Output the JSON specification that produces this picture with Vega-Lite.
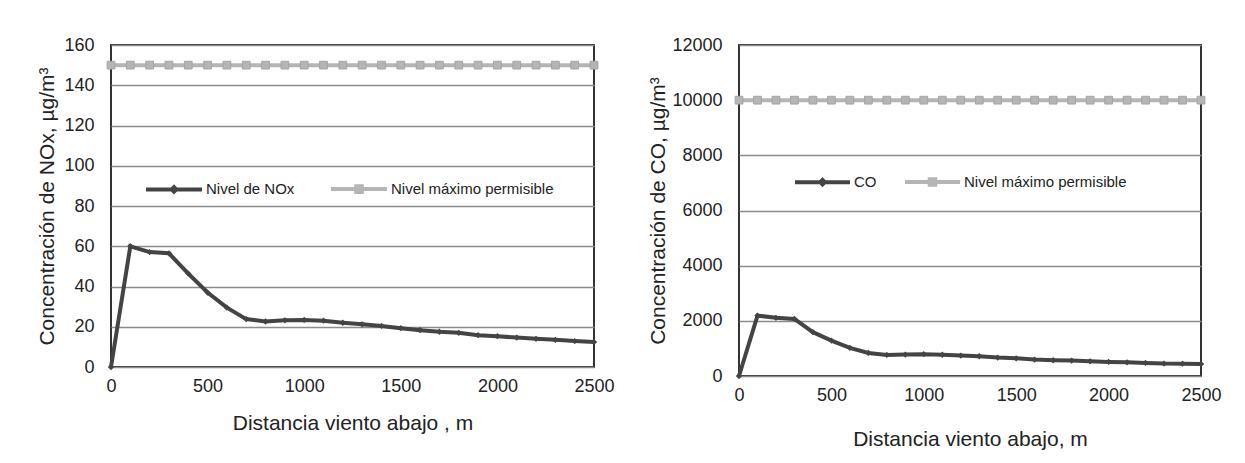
{
  "$schema": "https://vega.github.io/schema/vega-lite/v6.json",
  "background": "white",
  "padding": {"left": 35, "top": 35, "right": 10, "bottom": 10},
  "spacing": 30,
  "config": {
    "font": "Liberation Sans",
    "view": {"stroke": "#333", "strokeWidth": 2},
    "axis": {
      "labelFont": "Liberation Sans", "labelFontSize": 18, "labelColor": "#222",
      "titleFont": "Liberation Sans", "titleFontWeight": "normal", "titleColor": "#222",
      "ticks": false, "domain": false, "gridColor": "#8c8c8c", "gridWidth": 1.5, "gridOpacity": 1,
      "labelFlush": false, "format": "d"
    },
    "legend": {"labelFont": "Liberation Sans", "labelFontSize": 15, "labelColor": "#222", "labelLimit": 0}
  },
  "datasets": {
    "nox": [
      {"d": 0, "v": 0, "serie": "Nivel de NOx"},
      {"d": 100, "v": 60, "serie": "Nivel de NOx"},
      {"d": 200, "v": 57.1, "serie": "Nivel de NOx"},
      {"d": 300, "v": 56.5, "serie": "Nivel de NOx"},
      {"d": 400, "v": 46.4, "serie": "Nivel de NOx"},
      {"d": 500, "v": 37, "serie": "Nivel de NOx"},
      {"d": 600, "v": 29.5, "serie": "Nivel de NOx"},
      {"d": 700, "v": 23.8, "serie": "Nivel de NOx"},
      {"d": 800, "v": 22.6, "serie": "Nivel de NOx"},
      {"d": 900, "v": 23.2, "serie": "Nivel de NOx"},
      {"d": 1000, "v": 23.4, "serie": "Nivel de NOx"},
      {"d": 1100, "v": 23, "serie": "Nivel de NOx"},
      {"d": 1200, "v": 22, "serie": "Nivel de NOx"},
      {"d": 1300, "v": 21.2, "serie": "Nivel de NOx"},
      {"d": 1400, "v": 20.4, "serie": "Nivel de NOx"},
      {"d": 1500, "v": 19.3, "serie": "Nivel de NOx"},
      {"d": 1600, "v": 18.3, "serie": "Nivel de NOx"},
      {"d": 1700, "v": 17.5, "serie": "Nivel de NOx"},
      {"d": 1800, "v": 17, "serie": "Nivel de NOx"},
      {"d": 1900, "v": 15.8, "serie": "Nivel de NOx"},
      {"d": 2000, "v": 15.3, "serie": "Nivel de NOx"},
      {"d": 2100, "v": 14.6, "serie": "Nivel de NOx"},
      {"d": 2200, "v": 14, "serie": "Nivel de NOx"},
      {"d": 2300, "v": 13.5, "serie": "Nivel de NOx"},
      {"d": 2400, "v": 12.9, "serie": "Nivel de NOx"},
      {"d": 2500, "v": 12.4, "serie": "Nivel de NOx"},
      {"d": 0, "v": 150, "serie": "Nivel máximo permisible"},
      {"d": 100, "v": 150, "serie": "Nivel máximo permisible"},
      {"d": 200, "v": 150, "serie": "Nivel máximo permisible"},
      {"d": 300, "v": 150, "serie": "Nivel máximo permisible"},
      {"d": 400, "v": 150, "serie": "Nivel máximo permisible"},
      {"d": 500, "v": 150, "serie": "Nivel máximo permisible"},
      {"d": 600, "v": 150, "serie": "Nivel máximo permisible"},
      {"d": 700, "v": 150, "serie": "Nivel máximo permisible"},
      {"d": 800, "v": 150, "serie": "Nivel máximo permisible"},
      {"d": 900, "v": 150, "serie": "Nivel máximo permisible"},
      {"d": 1000, "v": 150, "serie": "Nivel máximo permisible"},
      {"d": 1100, "v": 150, "serie": "Nivel máximo permisible"},
      {"d": 1200, "v": 150, "serie": "Nivel máximo permisible"},
      {"d": 1300, "v": 150, "serie": "Nivel máximo permisible"},
      {"d": 1400, "v": 150, "serie": "Nivel máximo permisible"},
      {"d": 1500, "v": 150, "serie": "Nivel máximo permisible"},
      {"d": 1600, "v": 150, "serie": "Nivel máximo permisible"},
      {"d": 1700, "v": 150, "serie": "Nivel máximo permisible"},
      {"d": 1800, "v": 150, "serie": "Nivel máximo permisible"},
      {"d": 1900, "v": 150, "serie": "Nivel máximo permisible"},
      {"d": 2000, "v": 150, "serie": "Nivel máximo permisible"},
      {"d": 2100, "v": 150, "serie": "Nivel máximo permisible"},
      {"d": 2200, "v": 150, "serie": "Nivel máximo permisible"},
      {"d": 2300, "v": 150, "serie": "Nivel máximo permisible"},
      {"d": 2400, "v": 150, "serie": "Nivel máximo permisible"},
      {"d": 2500, "v": 150, "serie": "Nivel máximo permisible"}
    ],
    "co": [
      {"d": 0, "v": 0, "serie": "CO"},
      {"d": 100, "v": 2190, "serie": "CO"},
      {"d": 200, "v": 2110, "serie": "CO"},
      {"d": 300, "v": 2070, "serie": "CO"},
      {"d": 400, "v": 1590, "serie": "CO"},
      {"d": 500, "v": 1285, "serie": "CO"},
      {"d": 600, "v": 1020, "serie": "CO"},
      {"d": 700, "v": 836, "serie": "CO"},
      {"d": 800, "v": 765, "serie": "CO"},
      {"d": 900, "v": 776, "serie": "CO"},
      {"d": 1000, "v": 790, "serie": "CO"},
      {"d": 1100, "v": 770, "serie": "CO"},
      {"d": 1200, "v": 740, "serie": "CO"},
      {"d": 1300, "v": 715, "serie": "CO"},
      {"d": 1400, "v": 667, "serie": "CO"},
      {"d": 1500, "v": 642, "serie": "CO"},
      {"d": 1600, "v": 594, "serie": "CO"},
      {"d": 1700, "v": 570, "serie": "CO"},
      {"d": 1800, "v": 558, "serie": "CO"},
      {"d": 1900, "v": 533, "serie": "CO"},
      {"d": 2000, "v": 509, "serie": "CO"},
      {"d": 2100, "v": 497, "serie": "CO"},
      {"d": 2200, "v": 473, "serie": "CO"},
      {"d": 2300, "v": 450, "serie": "CO"},
      {"d": 2400, "v": 448, "serie": "CO"},
      {"d": 2500, "v": 436, "serie": "CO"},
      {"d": 0, "v": 10000, "serie": "Nivel máximo permisible"},
      {"d": 100, "v": 10000, "serie": "Nivel máximo permisible"},
      {"d": 200, "v": 10000, "serie": "Nivel máximo permisible"},
      {"d": 300, "v": 10000, "serie": "Nivel máximo permisible"},
      {"d": 400, "v": 10000, "serie": "Nivel máximo permisible"},
      {"d": 500, "v": 10000, "serie": "Nivel máximo permisible"},
      {"d": 600, "v": 10000, "serie": "Nivel máximo permisible"},
      {"d": 700, "v": 10000, "serie": "Nivel máximo permisible"},
      {"d": 800, "v": 10000, "serie": "Nivel máximo permisible"},
      {"d": 900, "v": 10000, "serie": "Nivel máximo permisible"},
      {"d": 1000, "v": 10000, "serie": "Nivel máximo permisible"},
      {"d": 1100, "v": 10000, "serie": "Nivel máximo permisible"},
      {"d": 1200, "v": 10000, "serie": "Nivel máximo permisible"},
      {"d": 1300, "v": 10000, "serie": "Nivel máximo permisible"},
      {"d": 1400, "v": 10000, "serie": "Nivel máximo permisible"},
      {"d": 1500, "v": 10000, "serie": "Nivel máximo permisible"},
      {"d": 1600, "v": 10000, "serie": "Nivel máximo permisible"},
      {"d": 1700, "v": 10000, "serie": "Nivel máximo permisible"},
      {"d": 1800, "v": 10000, "serie": "Nivel máximo permisible"},
      {"d": 1900, "v": 10000, "serie": "Nivel máximo permisible"},
      {"d": 2000, "v": 10000, "serie": "Nivel máximo permisible"},
      {"d": 2100, "v": 10000, "serie": "Nivel máximo permisible"},
      {"d": 2200, "v": 10000, "serie": "Nivel máximo permisible"},
      {"d": 2300, "v": 10000, "serie": "Nivel máximo permisible"},
      {"d": 2400, "v": 10000, "serie": "Nivel máximo permisible"},
      {"d": 2500, "v": 10000, "serie": "Nivel máximo permisible"}
    ]
  },
  "resolve": {"scale": {"color": "independent", "x": "independent", "y": "independent"}, "legend": {"color": "independent"}},
  "hconcat": [
    {
      "width": 483, "height": 322,
      "data": {"name": "nox"},
      "layer": [
        {
          "mark": {"type": "line", "strokeWidth": 4},
          "encoding": {
            "x": {"field": "d", "type": "quantitative", "scale": {"domain": [0, 2500], "nice": false, "padding": 0},
                  "axis": {"values": [0, 500, 1000, 1500, 2000, 2500], "grid": false, "labelPadding": 10, "title": "Distancia viento abajo , m", "titleFontSize": 21, "titlePadding": 17}},
            "y": {"field": "v", "type": "quantitative", "scale": {"domain": [0, 160], "nice": false, "padding": 0},
                  "axis": {"values": [0, 20, 40, 60, 80, 100, 120, 140, 160], "labelPadding": 17, "title": "Concentración de NOx, µg/m³", "titleFontSize": 21, "titlePadding": 6}},
            "color": {"field": "serie", "type": "nominal",
                      "scale": {"domain": ["Nivel de NOx", "Nivel máximo permisible"], "range": ["#444444", "#b5b5b5"]},
                      "legend": {"orient": "none", "legendX": 33, "legendY": 114, "direction": "horizontal", "title": null,
                                 "symbolSize": 3136, "symbolStrokeWidth": 4, "labelOffset": 2, "columnPadding": 28,
                                 "encode": {"symbols": {"update": {
                                   "shape": [{"test": "datum.value === 'Nivel de NOx'", "value": "M-1,0H1M0,-0.08L0.08,0L0,0.08L-0.08,0Z"}, {"value": "M-1,0H1M-0.1,-0.1H0.1V0.1H-0.1Z"}],
                                   "fill": [{"test": "datum.value === 'Nivel de NOx'", "value": "#444444"}, {"value": "#b5b5b5"}],
                                   "stroke": [{"test": "datum.value === 'Nivel de NOx'", "value": "#444444"}, {"value": "#b5b5b5"}]
                                 }}}}}
          }
        },
        {
          "transform": [{"filter": "datum.serie === 'Nivel de NOx'"}],
          "mark": {"type": "point", "shape": "diamond", "filled": true, "size": 40, "color": "#444444", "opacity": 1},
          "encoding": {"x": {"field": "d", "type": "quantitative"}, "y": {"field": "v", "type": "quantitative"}}
        },
        {
          "transform": [{"filter": "datum.serie === 'Nivel máximo permisible'"}],
          "mark": {"type": "point", "shape": "square", "filled": true, "size": 60, "fill": "#b5b5b5", "stroke": "#a5a5a5", "strokeWidth": 1, "opacity": 1},
          "encoding": {"x": {"field": "d", "type": "quantitative"}, "y": {"field": "v", "type": "quantitative"}}
        }
      ]
    },
    {
      "width": 462, "height": 331,
      "data": {"name": "co"},
      "layer": [
        {
          "mark": {"type": "line", "strokeWidth": 4},
          "encoding": {
            "x": {"field": "d", "type": "quantitative", "scale": {"domain": [0, 2500], "nice": false, "padding": 0},
                  "axis": {"values": [0, 500, 1000, 1500, 2000, 2500], "grid": false, "labelPadding": 10, "title": "Distancia viento abajo, m", "titleFontSize": 21, "titlePadding": 24}},
            "y": {"field": "v", "type": "quantitative", "scale": {"domain": [0, 12000], "nice": false, "padding": 0},
                  "axis": {"values": [0, 2000, 4000, 6000, 8000, 10000, 12000], "labelPadding": 17, "title": "Concentración de CO, µg/m³", "titleFontSize": 21, "titlePadding": 3}},
            "color": {"field": "serie", "type": "nominal",
                      "scale": {"domain": ["CO", "Nivel máximo permisible"], "range": ["#444444", "#b5b5b5"]},
                      "legend": {"orient": "none", "legendX": 54, "legendY": 107, "direction": "horizontal", "title": null,
                                 "symbolSize": 3025, "symbolStrokeWidth": 4, "labelOffset": 2, "columnPadding": 20,
                                 "encode": {"symbols": {"update": {
                                   "shape": [{"test": "datum.value === 'CO'", "value": "M-1,0H1M0,-0.08L0.08,0L0,0.08L-0.08,0Z"}, {"value": "M-1,0H1M-0.1,-0.1H0.1V0.1H-0.1Z"}],
                                   "fill": [{"test": "datum.value === 'CO'", "value": "#444444"}, {"value": "#b5b5b5"}],
                                   "stroke": [{"test": "datum.value === 'CO'", "value": "#444444"}, {"value": "#b5b5b5"}]
                                 }}}}}
          }
        },
        {
          "transform": [{"filter": "datum.serie === 'CO'"}],
          "mark": {"type": "point", "shape": "diamond", "filled": true, "size": 40, "color": "#444444", "opacity": 1},
          "encoding": {"x": {"field": "d", "type": "quantitative"}, "y": {"field": "v", "type": "quantitative"}}
        },
        {
          "transform": [{"filter": "datum.serie === 'Nivel máximo permisible'"}],
          "mark": {"type": "point", "shape": "square", "filled": true, "size": 60, "fill": "#b5b5b5", "stroke": "#a5a5a5", "strokeWidth": 1, "opacity": 1},
          "encoding": {"x": {"field": "d", "type": "quantitative"}, "y": {"field": "v", "type": "quantitative"}}
        }
      ]
    }
  ]
}
